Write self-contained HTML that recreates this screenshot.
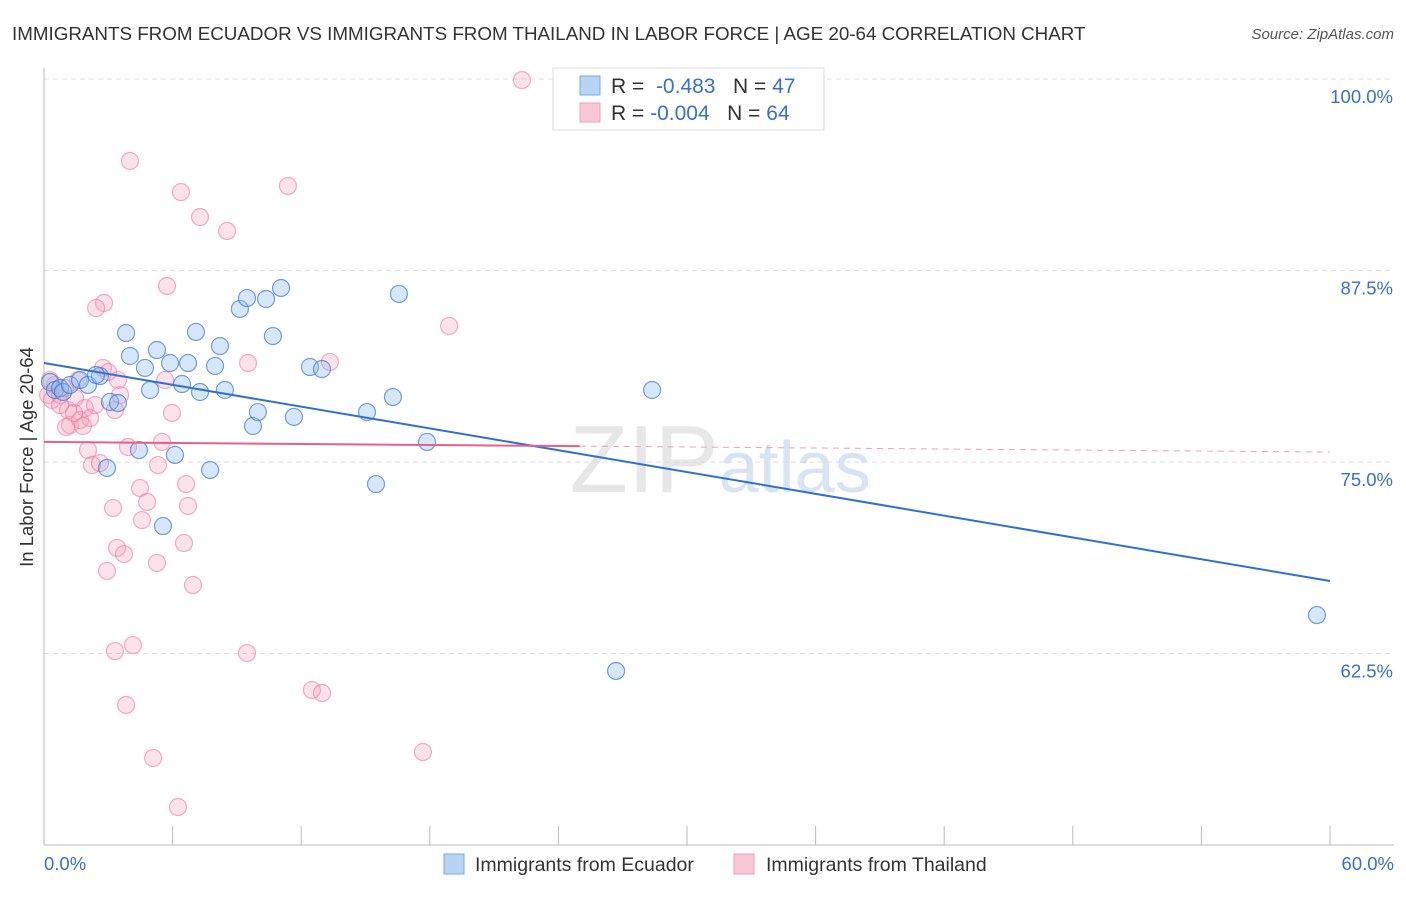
<!DOCTYPE html>
<html><head><meta charset="utf-8"><style>
body{margin:0;background:#fff;font-family:"Liberation Sans",sans-serif;}
svg text{font-family:"Liberation Sans",sans-serif;}
</style></head><body>
<svg id="chart" width="1406" height="892" viewBox="0 0 1406 892" xmlns="http://www.w3.org/2000/svg">
<text x="12" y="40" font-size="18.8" fill="#333">IMMIGRANTS FROM ECUADOR VS IMMIGRANTS FROM THAILAND IN LABOR FORCE | AGE 20-64 CORRELATION CHART</text>
<text x="1394" y="39" font-size="15" fill="#555" font-style="italic" text-anchor="end">Source: ZipAtlas.com</text>
<text x="720" y="492" font-size="96" fill="#ddd" text-anchor="middle" font-family="Liberation Serif" opacity="0.7">ZIP<tspan fill="#c8d8ee" font-family="Liberation Sans" font-size="72">atlas</tspan></text>
<g id="grid"></g>
<g id="axes"></g>
<g id="pts"></g>
<g id="lines"></g>
<text transform="translate(33,457) rotate(-90)" font-size="18.5" fill="#333" text-anchor="middle">In Labor Force | Age 20-64</text>
<g>
<rect x="553" y="68" width="271" height="62" fill="#fff" stroke="#ddd"/>
<rect x="580" y="76" width="20" height="19" fill="#b8d4f4" stroke="#7aa8e0"/>
<rect x="580" y="103" width="20" height="19" fill="#f8c8d6" stroke="#eda0b8"/>
<text x="611" y="93" font-size="21" fill="#333">R = <tspan fill="#3a6fd0">&#160;-0.483</tspan>&#160;&#160;&#160;N = <tspan fill="#3a6fd0">47</tspan></text>
<text x="611" y="120" font-size="21" fill="#333">R = <tspan fill="#3a6fd0">-0.004</tspan>&#160;&#160;&#160;N = <tspan fill="#3a6fd0">64</tspan></text>
</g>
<g>
<rect x="444" y="854" width="20" height="20" fill="#b8d4f4" stroke="#7aa8e0"/>
<text x="475" y="871" font-size="19.5" fill="#333">Immigrants from Ecuador</text>
<rect x="734" y="854" width="20" height="20" fill="#f8c8d6" stroke="#eda0b8"/>
<text x="766" y="871" font-size="19.5" fill="#333">Immigrants from Thailand</text>
</g>
</svg>
<script>
const xTicks=[0,6,12,18,24,30,36,42,48,54,60];
const yTicks=[62.5,75,87.5,100];
const yTickLabels=["62.5%","75.0%","87.5%","100.0%"];
const ecuadorX=[.28,.51,.75,.89,1.21,1.68,2.05,2.61,3.08,3.45,2.94,3.83,4.01,4.71,4.95,5.27,5.55,5.88,6.11,6.44,6.72,7.09,7.28,7.75,7.98,8.21,8.44,9.14,9.47,9.75,9.98,10.36,10.68,11.06,11.66,12.41,12.97,15.07,15.49,16.28,16.56,17.87,26.69,28.37,59.39,4.43,2.43];
const ecuadorY=[80.22,79.70,79.83,79.57,80.03,80.35,80.03,80.61,78.92,78.85,74.61,83.42,81.92,81.14,79.70,82.31,70.82,81.46,75.46,80.09,81.46,83.49,79.57,74.48,81.27,82.57,79.70,84.99,85.70,77.35,78.26,85.64,83.22,86.36,77.94,81.20,81.07,78.26,73.56,79.24,85.97,76.31,61.36,79.70,65.01,75.78,80.68];
const thaiX=[22.30,4.01,6.39,11.38,7.28,8.54,5.74,2.80,2.43,18.90,9.52,13.34,.28,.51,.19,.37,.75,.98,1.12,1.45,1.21,1.68,1.91,2.15,2.05,2.24,2.61,2.75,2.99,3.45,3.55,3.31,3.92,4.48,4.57,4.81,5.32,5.51,5.65,5.97,6.63,6.72,6.53,5.27,3.41,3.73,2.94,3.22,6.95,3.31,4.15,9.47,3.83,12.50,12.97,5.09,6.25,17.68,1.59,.75,2.38,1.82,1.03,1.40];
const thaiY=[99.93,94.65,92.62,93.02,90.99,90.08,86.49,85.38,85.05,83.88,81.46,81.53,80.35,80.03,79.37,79.05,79.37,79.83,78.39,79.18,77.41,77.74,78.52,77.87,75.78,74.80,74.93,81.14,80.87,80.35,79.37,78.39,75.98,73.30,71.21,72.39,74.80,76.31,80.35,78.20,73.56,72.13,69.71,68.41,69.39,68.99,67.89,72.00,66.97,62.66,63.05,62.53,59.14,60.12,59.92,55.68,52.48,56.07,80.35,78.72,78.72,77.35,77.28,78.20];
const ecuadorFit=[81.46,67.23];
const thaiFit=[76.31,75.65];
const thaiSolidEnd=25;

const NS="http://www.w3.org/2000/svg";
const X=v=>44+v/60*1286;
const Y=v=>79+(100-v)/12.5*191.5;
function mk(tag,attrs,parent){const e=document.createElementNS(NS,tag);for(const k in attrs)e.setAttribute(k,attrs[k]);document.getElementById(parent).appendChild(e);return e;}
yTicks.forEach((t,i)=>{
 const g=mk('line',{x1:44,x2:1394,y1:Y(t),y2:Y(t),stroke:'#ddd','stroke-dasharray':'5,4'},'grid');
 
 
 const l=mk('text',{x:1393,y:Y(t)+24,'font-size':18.5,fill:'#3a6fd0','text-anchor':'end'},'grid');
 l.textContent=yTickLabels[i];
 
 
});
const ax=mk('line',{x1:44,x2:1394,y1:845,y2:845,stroke:'#bbb'},'axes');


const ay=mk('line',{x1:44,x2:44,y1:68,y2:845,stroke:'#bbb'},'axes');


xTicks.forEach(t=>{
 const k=mk('line',{x1:X(t),x2:X(t),y1:826,y2:845,stroke:'#bbb'},'axes');
 
 
});
const xl0=mk('text',{x:44,y:870,'font-size':18.5,fill:'#3a6fd0'},'axes');xl0.textContent=xTicks[0].toFixed(1)+'%';


const xl1=mk('text',{x:1394,y:870,'font-size':18.5,fill:'#3a6fd0','text-anchor':'end'},'axes');xl1.textContent=xTicks[xTicks.length-1].toFixed(1)+'%';


thaiX.forEach((v,i)=>{
 const c=mk('circle',{cx:X(v),cy:Y(thaiY[i]),r:8.5,fill:'rgba(244,160,185,0.3)',stroke:'rgba(236,130,165,0.65)','stroke-width':1.2},'pts');
 
 
});
ecuadorX.forEach((v,i)=>{
 const c=mk('circle',{cx:X(v),cy:Y(ecuadorY[i]),r:8.5,fill:'rgba(140,185,240,0.35)',stroke:'rgba(60,120,210,0.7)','stroke-width':1.2},'pts');
 
 
});
const bl=mk('line',{x1:X(0),y1:Y(ecuadorFit[0]),x2:X(60),y2:Y(ecuadorFit[1]),stroke:'#2f6fd6','stroke-width':2},'lines');


const pAt=x=>thaiFit[0]+(thaiFit[1]-thaiFit[0])*x/60;
const pl=mk('line',{x1:X(0),y1:Y(pAt(0)),x2:X(thaiSolidEnd),y2:Y(pAt(thaiSolidEnd)),stroke:'#e8608a','stroke-width':2},'lines');


const pd=mk('line',{x1:X(thaiSolidEnd),y1:Y(pAt(thaiSolidEnd)),x2:X(60),y2:Y(pAt(60)),stroke:'#eda0b8','stroke-width':1,'stroke-dasharray':'6,5'},'lines');


</script>
</body></html>
